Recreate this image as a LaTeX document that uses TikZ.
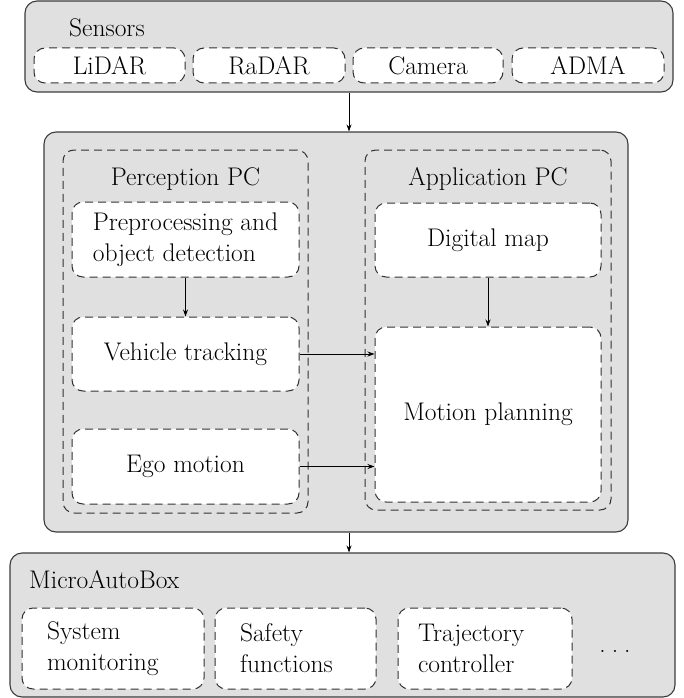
\documentclass[tikz,border=0pt]{standalone}
\usetikzlibrary{arrows.meta}
\definecolor{boxgray}{RGB}{224,224,224}
\definecolor{edgegray}{RGB}{60,60,60}
\definecolor{dashgray}{RGB}{50,50,50}
\begin{document}
\begin{tikzpicture}[x=1pt,y=-1pt,
  font=\fontsize{25.5}{31}\selectfont,
  outerbox/.style={draw=edgegray, fill=boxgray, rounded corners=12pt, line width=1.1pt, inner sep=0pt},
  groupbox/.style={draw=dashgray, dash pattern=on 8pt off 5pt, rounded corners=11pt, line width=1pt, inner sep=0pt},
  inbox/.style={draw=dashgray, fill=white, dash pattern=on 8pt off 5pt, rounded corners=11pt, line width=1pt, inner sep=0pt, align=center},
  lbl/.style={inner sep=0pt, anchor=base west},
  clbl/.style={inner sep=0pt, anchor=base},
  arr/.style={-{Stealth[length=7pt,width=5pt]}, line width=0.9pt, black}]
\useasboundingbox (0,0) rectangle (683,698);

% Sensors
\node[outerbox, minimum width=648pt, minimum height=91pt] (sensors) at (349,46.5) {};
\node[lbl] (senslbl) at (69,37) {Sensors};
\node[inbox, minimum width=151pt, minimum height=35pt] (lidar) at (109.5,65.5) {LiDAR};
\node[inbox, minimum width=152pt, minimum height=35pt] (radar) at (269,65.5) {RaDAR};
\node[inbox, minimum width=150pt, minimum height=35pt] (camera) at (428,65.5) {Camera};
\node[inbox, minimum width=152pt, minimum height=35pt] (adma) at (588,65.5) {ADMA};

% Middle
\node[outerbox, minimum width=584pt, minimum height=400pt] (mid) at (336,332) {};
\node[groupbox, minimum width=245pt, minimum height=363pt] (percpc) at (185.5,331.5) {};
\node[clbl] (perclbl) at (185.5,185) {Perception PC};
\node[inbox, minimum width=227pt, minimum height=75pt, align=left] (prep) at (185.5,239.5) {Preprocessing and\\object detection};
\node[inbox, minimum width=227pt, minimum height=74pt] (vehtrack) at (185.5,354) {Vehicle tracking};
\node[inbox, minimum width=227pt, minimum height=75pt] (ego) at (185.5,466.5) {Ego motion};
\node[groupbox, minimum width=246pt, minimum height=360pt] (apppc) at (488,330) {};
\node[clbl] (applbl) at (488,185) {Application PC};
\node[inbox, minimum width=226pt, minimum height=74pt] (digmap) at (488,240) {Digital map};
\node[inbox, minimum width=226pt, minimum height=175pt] (motion) at (488,414.5) {Motion planning};

% MicroAutoBox
\node[outerbox, minimum width=665pt, minimum height=144pt] (micro) at (342.5,625) {};
\node[lbl] (microlbl) at (29,588) {MicroAutoBox};
\node[inbox, minimum height=81pt, align=left, inner xsep=25pt, text width=132pt] (sysmon) at (113,648.5) {System\\monitoring};
\node[inbox, minimum height=81pt, align=left, inner xsep=25pt, text width=111pt] (safety) at (295.5,648.5) {Safety\\functions};
\node[inbox, minimum height=81pt, align=left, inner xsep=20pt, text width=134pt] (traj) at (485,648.5) {Trajectory\\controller};
\node[clbl] (dots) at (615,652) {.\hspace{6pt}.\hspace{6pt}.};

% Connectors
\draw[arr] (sensors.south) -- (sensors.south |- mid.north);
\draw[arr] (prep.south) -- (vehtrack.north);
\draw[arr] (digmap.south) -- (motion.north);
\draw[arr] (vehtrack.east) -- (vehtrack.east -| motion.west);
\draw[arr] (ego.east) -- (ego.east -| motion.west);
\draw[arr] (mid.south -| sensors.south) -- (sensors.south |- micro.north);
\end{tikzpicture}
\end{document}
